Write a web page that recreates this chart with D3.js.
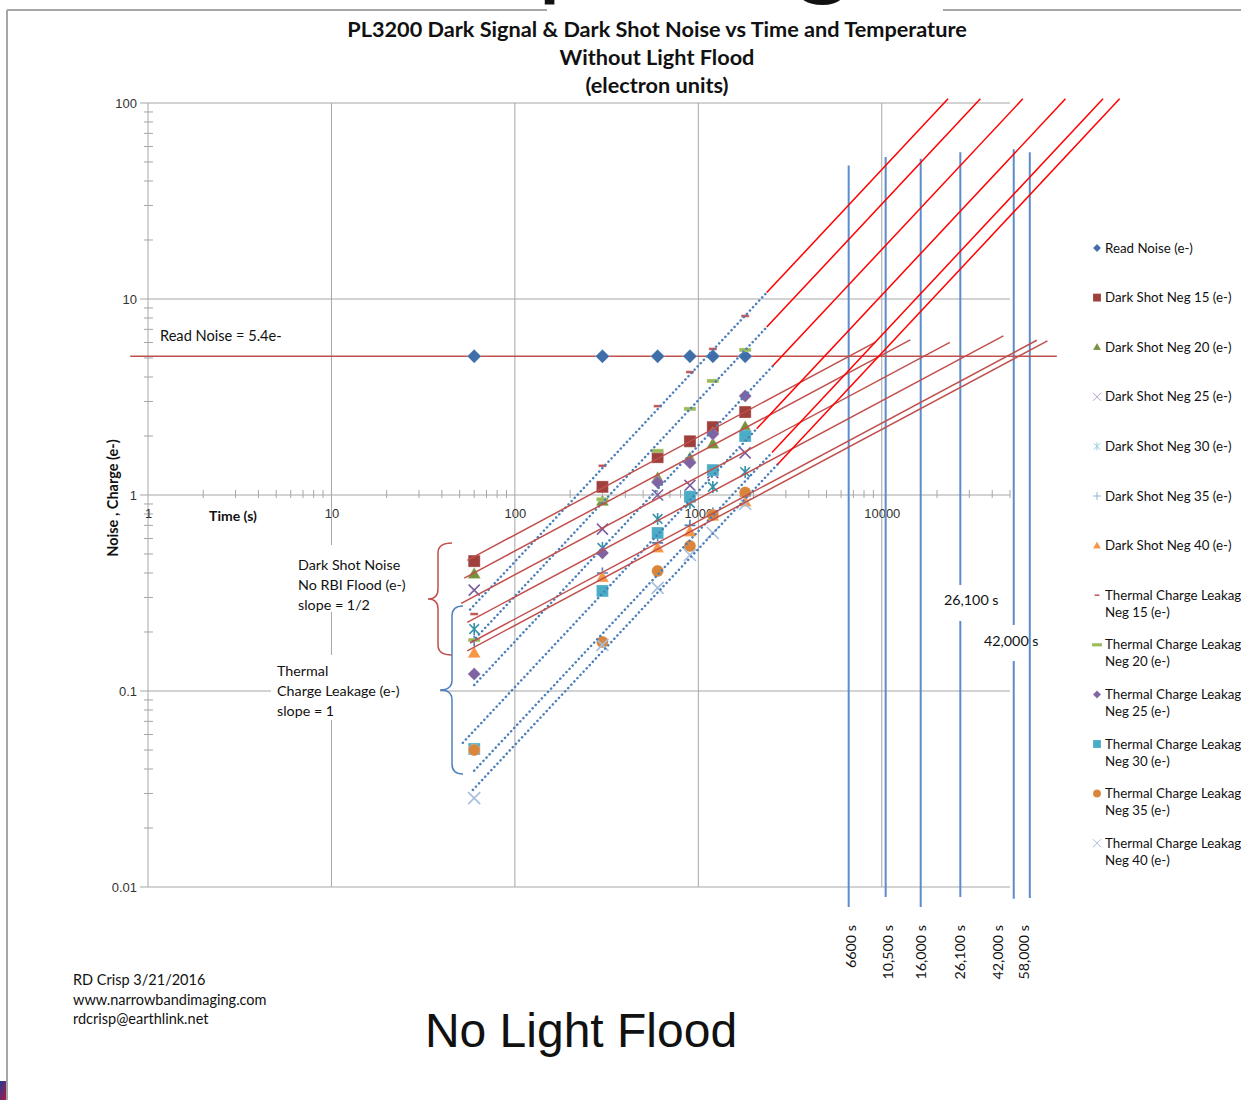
<!DOCTYPE html>
<html>
<head>
<meta charset="utf-8">
<title>PL3200 Dark Signal and Dark Shot Noise</title>
<script src="https://cdn.jsdelivr.net/npm/d3@7/dist/d3.min.js"></script>
<style>
  body { margin: 0; background: #fff; }
  .vis { width: 1241px; height: 1100px; }
  text { font-family: Lato, 'Open Sans', sans-serif; fill: #111; }
  .tick text { font-family: 'Liberation Sans', Arial, sans-serif; font-size: 13px; fill: #333; }
</style>
</head>
<body>
<div class="vis"></div>
<script>
(function() {
  'use strict';

  // exposure times (s)
  var times = [60, 300, 600, 900, 1200, 1800];

  // electrons
  var readNoise  = [5.1, 5.1, 5.1, 5.1, 5.1, 5.1];
  var darkShot15 = [0.46, 1.10, 1.56, 1.88, 2.22, 2.65];
  var darkShot20 = [0.395, 0.93, 1.22, 1.54, 1.82, 2.22];
  var darkShot25 = [0.327, 0.67, 1.0, 1.12, 1.3, 1.64];
  var darkShot30 = [0.207, 0.537, 0.755, 0.91, 1.1, 1.31];
  var darkShot35 = [0.18, 0.40, 0.57, 0.70, 0.81, 0.99];
  var darkShot40 = [0.156, 0.38, 0.537, 0.647, 0.78, 0.92];
  var thermal15  = [0.247, 1.41, 2.84, 4.24, 5.56, 8.19];
  var thermal20  = [0.182, 0.95, 1.68, 2.75, 3.82, 5.5];
  var thermal25  = [0.122, 0.506, 1.16, 1.46, 2.05, 3.2];
  var thermal30  = [0.0506, 0.324, 0.64, 0.98, 1.34, 2.0];
  var thermal35  = [0.05, 0.178, 0.41, 0.55, 0.79, 1.03];
  var thermal40  = [0.0284, 0.172, 0.336, 0.494, 0.64, 0.9];

  var seriesNames = [
    'Read Noise (e-)',
    'Dark Shot Neg 15 (e-)', 'Dark Shot Neg 20 (e-)', 'Dark Shot Neg 25 (e-)',
    'Dark Shot Neg 30 (e-)', 'Dark Shot Neg 35 (e-)', 'Dark Shot Neg 40 (e-)',
    'Thermal Charge Leakage|Neg 15 (e-)', 'Thermal Charge Leakage|Neg 20 (e-)',
    'Thermal Charge Leakage|Neg 25 (e-)', 'Thermal Charge Leakage|Neg 30 (e-)',
    'Thermal Charge Leakage|Neg 35 (e-)', 'Thermal Charge Leakage|Neg 40 (e-)'
  ];

  // trend line extents (s)
  var shotStart = [55, 53, 51, 55, 57, 55];
  var shotEnd   = [9300, 14300, 23500, 46000, 70000, 80000];
  var leakStart = [57, 59, 60, 52, 60, 59];
  var leakBreak = [2360, 2360, 2550, 2080, 2520, 2700];
  var leakTop = 105;

  var readNoiseLevel = 5.1;
  var readNoiseSpan = [0.8, 90000];

  // times where dark shot noise meets read noise
  var crossTimes  = [6600, 10500, 16300, 26800, 52400, 64100];
  var crossTop    = [48, 53, 52, 56, 58, 56];
  var crossBottom = [0.0079, 0.0089, 0.0079, 0.0089, 0.0087, 0.0088];
  var crossLabels = ['6600 s', '10,500 s', '16,000 s', '26,100 s', '42,000 s', '58,000 s'];
  var crossLabelTimes = [6600, 10500, 16000, 26100, 42000, 58000];

  var xTicks = [1, 10, 100, 1000, 10000];
  var yTicks = [0.01, 0.1, 1, 10, 100];

  var allValues = [readNoise, darkShot15, darkShot20, darkShot25, darkShot30, darkShot35, darkShot40,
    thermal15, thermal20, thermal25, thermal30, thermal35, thermal40];

  // marker styles, same order as seriesNames
  var styles = [
    {shape: 'diamond', color: '#3F6EA9', size: 14},
    {shape: 'square', color: '#A0403C', size: 12},
    {shape: 'triangle', color: '#77933C', size: 13},
    {shape: 'x', color: '#7D60A0', legend: '#B3A2C7', size: 11},
    {shape: 'asterisk', color: '#3591A8', legend: '#93CDDD', size: 12},
    {shape: 'plus', color: '#4A7EBB', legend: '#95B3D7', size: 11},
    {shape: 'triangle', color: '#F79646', size: 13},
    {shape: 'dash', color: '#C0504D', size: 8},
    {shape: 'dash', color: '#9BBB59', size: 12},
    {shape: 'diamond', color: '#8064A2', size: 13},
    {shape: 'square', color: '#4BACC6', size: 12},
    {shape: 'circle', color: '#D9853C', size: 12},
    {shape: 'x', color: '#A7BDDF', size: 12}
  ];

  var series = seriesNames.map(function(name, i) {
    return {name: name, values: allValues[i], style: styles[i]};
  });

  var svg = d3.select('.vis').append('svg')
    .attr('width', 1241)
    .attr('height', 1100);

  var x = d3.scaleLog().domain([1, 50000]).range([148, 1010]);
  var y = d3.scaleLog().domain([0.01, 100]).range([887, 103]);

  // slide frame bits
  svg.append('line').attr('x1', 7).attr('x2', 7).attr('y1', 10).attr('y2', 1100)
    .attr('stroke', '#A6A6A6').attr('stroke-width', 2);
  svg.append('line').attr('x1', 7).attr('x2', 547).attr('y1', 10).attr('y2', 10)
    .attr('stroke', '#A6A6A6').attr('stroke-width', 2);
  svg.append('line').attr('x1', 943).attr('x2', 1241).attr('y1', 10).attr('y2', 10)
    .attr('stroke', '#A6A6A6').attr('stroke-width', 2);
  svg.append('text').attr('x', 540).attr('y', -9).attr('font-size', 78).attr('font-weight', 'bold').text('p');
  svg.append('text').attr('x', 796).attr('y', -14).attr('font-size', 104).attr('font-weight', 'bold').text('g');
  var grad = svg.append('defs').append('linearGradient').attr('id', 'corner')
    .attr('x1', 0).attr('y1', 0).attr('x2', 1).attr('y2', 1);
  grad.append('stop').attr('offset', '0%').attr('stop-color', '#1D3E9A');
  grad.append('stop').attr('offset', '100%').attr('stop-color', '#B0153C');
  svg.append('rect').attr('x', 0).attr('y', 1081).attr('width', 6).attr('height', 19).attr('fill', 'url(#corner)');

  // title
  var title = ['PL3200 Dark Signal & Dark Shot Noise vs Time and Temperature', 'Without Light Flood', '(electron units)'];
  svg.append('g').selectAll('text').data(title).enter().append('text')
    .attr('x', 657)
    .attr('y', function(d, i) { return 37 + i * 28; })
    .attr('text-anchor', 'middle')
    .attr('font-size', 21.7)
    .attr('font-weight', 'bold')
    .text(function(d) { return d; });

  // grid
  var grid = svg.append('g').attr('stroke', '#A6A6A6').attr('stroke-width', 1);
  grid.selectAll('.hg').data(yTicks).enter().append('line')
    .attr('x1', 140).attr('x2', x.range()[1])
    .attr('y1', y).attr('y2', y);
  grid.selectAll('.vg').data(xTicks).enter().append('line')
    .attr('x1', x).attr('x2', x)
    .attr('y1', y(100)).attr('y2', y(0.01));

  var minorY = [], minorX = [];
  yTicks.slice(0, 4).forEach(function(d) {
    for (var k = 2; k < 10; k++) { minorY.push(d * k); }
  });
  xTicks.forEach(function(d) {
    for (var k = 2; k < 10; k++) { if (d * k <= 50000) { minorX.push(d * k); } }
  });
  grid.selectAll('.my').data(minorY).enter().append('line')
    .attr('x1', x(1) - 4).attr('x2', x(1) + 5)
    .attr('y1', y).attr('y2', y);
  grid.selectAll('.mx').data(minorX).enter().append('line')
    .attr('x1', x).attr('x2', x)
    .attr('y1', y(1) - 5).attr('y2', y(1) + 3);

  svg.append('g')
    .attr('transform', 'translate(' + x(1) + ',0)')
    .call(d3.axisLeft(y).tickValues(yTicks).tickFormat(d3.format('~g')).tickSize(0).tickPadding(11))
    .call(function(g) { g.select('.domain').remove(); });

  svg.append('g')
    .attr('transform', 'translate(0,' + y(1) + ')')
    .call(d3.axisBottom(x).tickValues(xTicks).tickFormat(d3.format('d')).tickSize(0).tickPadding(14))
    .call(function(g) { g.select('.domain').remove(); });

  svg.append('text').attr('x', 233).attr('y', 521).attr('text-anchor', 'middle')
    .attr('font-size', 14).attr('font-weight', 'bold').text('Time (s)');
  svg.append('text').attr('transform', 'translate(118,498) rotate(-90)').attr('text-anchor', 'middle')
    .attr('font-size', 14.5).attr('font-weight', 'bold').text('Noise , Charge (e-)');

  // annotation boxes
  svg.append('rect').attr('x', 292).attr('y', 545).attr('width', 128).attr('height', 67).attr('fill', '#fff');
  svg.append('rect').attr('x', 271).attr('y', 655).attr('width', 169).attr('height', 65).attr('fill', '#fff');

  function multiline(lines, x0, y0, step, size) {
    svg.append('g').selectAll('text').data(lines).enter().append('text')
      .attr('x', x0)
      .attr('y', function(d, i) { return y0 + i * step; })
      .attr('font-size', size || 14.3)
      .text(function(d) { return d; });
  }
  multiline(['Read Noise = 5.4e-'], 160, 341, 20, 14.6);
  multiline(['Dark Shot Noise', 'No RBI Flood (e-)', 'slope = 1/2'], 298, 570, 20);
  multiline(['Thermal', 'Charge Leakage (e-)', 'slope = 1'], 277, 676, 20);

  // braces
  svg.append('path')
    .attr('d', 'M452,543 Q438,543 438,553 L438,589 Q438,599 428,599 Q438,599 438,609 L438,645 Q438,655 452,655')
    .attr('fill', 'none').attr('stroke', '#C0504D').attr('stroke-width', 1.5);
  svg.append('path')
    .attr('d', 'M463,606 Q452,606 452,616 L452,680 Q452,690 440,690 Q452,690 452,700 L452,764 Q452,774 463,774')
    .attr('fill', 'none').attr('stroke', '#4F81BD').attr('stroke-width', 1.5);

  // crossing lines
  svg.append('g').selectAll('line').data(crossTimes).enter().append('line')
    .attr('x1', x).attr('x2', x)
    .attr('y1', function(d, i) { return y(crossTop[i]); })
    .attr('y2', function(d, i) { return y(crossBottom[i]); })
    .attr('stroke', '#5B8CCB').attr('stroke-width', 2);

  svg.append('rect').attr('x', x(crossTimes[3]) - 5).attr('y', 585).attr('width', 10).attr('height', 36).attr('fill', '#fff');
  svg.append('rect').attr('x', x(crossTimes[4]) - 5).attr('y', 625).attr('width', 10).attr('height', 36).attr('fill', '#fff');
  svg.append('text').attr('x', 944).attr('y', 605).attr('font-size', 14.3).text(crossLabels[3]);
  svg.append('text').attr('x', 984).attr('y', 646).attr('font-size', 14.3).text(crossLabels[4]);

  svg.append('g').selectAll('text').data(crossLabels).enter().append('text')
    .attr('transform', function(d, i) {
      return 'translate(' + (x(crossLabelTimes[i]) + 2) + ',925) rotate(-90)';
    })
    .attr('text-anchor', 'end')
    .attr('dy', '0.35em')
    .attr('font-size', 14.3)
    .text(function(d) { return d; });

  // read noise level
  svg.append('line')
    .attr('x1', x(readNoiseSpan[0])).attr('x2', x(readNoiseSpan[1]))
    .attr('y1', y(readNoiseLevel)).attr('y2', y(readNoiseLevel))
    .attr('stroke', '#C0504D').attr('stroke-width', 1.5);

  // markers
  function shapePath(type, s) {
    var r = s / 2;
    if (type === 'diamond') { return 'M0,' + (-r) + 'L' + r + ',0L0,' + r + 'L' + (-r) + ',0Z'; }
    if (type === 'square') { return 'M' + (-r) + ',' + (-r) + 'h' + s + 'v' + s + 'h' + (-s) + 'Z'; }
    if (type === 'triangle') {
      var h = s * 0.87;
      return 'M0,' + (-h * 0.6) + 'L' + r + ',' + (h * 0.4) + 'L' + (-r) + ',' + (h * 0.4) + 'Z';
    }
    if (type === 'x') { return 'M' + (-r) + ',' + (-r) + 'L' + r + ',' + r + 'M' + (-r) + ',' + r + 'L' + r + ',' + (-r); }
    if (type === 'asterisk') {
      var q = r * 0.8;
      return 'M' + (-q) + ',' + (-q) + 'L' + q + ',' + q + 'M' + (-q) + ',' + q + 'L' + q + ',' + (-q) + 'M0,' + (-r) + 'V' + r;
    }
    if (type === 'plus') { return 'M' + (-r) + ',0H' + r + 'M0,' + (-r) + 'V' + r; }
    if (type === 'dash') { var t = s * 0.33; return 'M' + (-r) + ',' + (-t / 2) + 'h' + s + 'v' + t + 'h' + (-s) + 'Z'; }
    return d3.symbol(d3.symbolCircle, Math.PI * r * r)();
  }
  var stroked = {x: true, asterisk: true, plus: true};

  function addMarker(g, st, s, color) {
    var p = g.append('path').attr('d', shapePath(st.shape, s));
    if (stroked[st.shape]) {
      p.attr('fill', 'none').attr('stroke', color).attr('stroke-width', 1.6);
    } else {
      p.attr('fill', color).attr('stroke', '#fff').attr('stroke-opacity', 0.35).attr('stroke-width', 0.8);
    }
    return p;
  }

  var markerLayer = svg.append('g');
  series.forEach(function(s) {
    s.values.forEach(function(v, i) {
      var g = markerLayer.append('g').attr('transform', 'translate(' + x(times[i]) + ',' + y(v) + ')');
      addMarker(g, s.style, s.style.size, s.style.color);
    });
  });

  // trend lines with fixed slopes
  function fitPower(values, slope) {
    var m = d3.mean(values, function(v, i) { return Math.log(v) - slope * Math.log(times[i]); });
    return Math.exp(m);
  }
  var line = d3.line()
    .x(function(d) { return x(d.t); })
    .y(function(d) { return y(d.v); });

  var shotSeries = series.slice(1, 7);
  var leakSeries = series.slice(7, 13);

  var leakFits = leakSeries.map(function(s) { return fitPower(s.values, 1); });
  var leakDotted = leakFits.map(function(c, i) {
    return [leakStart[i], leakBreak[i]].map(function(t) { return {t: t, v: c * t}; });
  });
  var leakRed = leakFits.map(function(c, i) {
    return [leakBreak[i], leakTop / c].map(function(t) { return {t: t, v: c * t}; });
  });
  var shotLines = shotSeries.map(function(s, i) {
    var c = fitPower(s.values, 0.5);
    return [shotStart[i], shotEnd[i]].map(function(t) { return {t: t, v: c * Math.sqrt(t)}; });
  });

  svg.append('g').selectAll('path').data(leakDotted).enter().append('path')
    .attr('d', line)
    .attr('fill', 'none')
    .attr('stroke', '#4A7EBB')
    .attr('stroke-width', 2.5)
    .attr('stroke-linecap', 'round')
    .attr('stroke-dasharray', '0.1 4.4');

  svg.append('g').selectAll('path').data(shotLines).enter().append('path')
    .attr('d', line)
    .attr('fill', 'none')
    .attr('stroke', '#C0504D')
    .attr('stroke-width', 1.5);

  svg.append('g').selectAll('path').data(leakRed).enter().append('path')
    .attr('d', line)
    .attr('fill', 'none')
    .attr('stroke', '#FF0000')
    .attr('stroke-width', 1.5);

  // legend
  var legend = svg.append('g');
  series.forEach(function(s, i) {
    var ly = 248 + i * 49.6;
    var g = legend.append('g').attr('transform', 'translate(1097,' + ly + ')');
    var st = s.style;
    var size = st.shape === 'dash' ? (st.size === 8 ? 5 : 10) : 8;
    addMarker(g, st, size, st.legend || st.color).attr('stroke-width', stroked[st.shape] ? 1 : 0.5);
    var parts = s.name.split('|');
    parts.forEach(function(p, k) {
      legend.append('text')
        .attr('x', 1105)
        .attr('y', ly + 4.5 + k * 17)
        .attr('font-size', 13.3)
        .text(p);
    });
  });

  // footer
  multiline(['RD Crisp 3/21/2016', 'www.narrowbandimaging.com', 'rdcrisp@earthlink.net'], 73, 985, 19.5, 14.5);
  svg.append('text').attr('x', 581).attr('y', 1047).attr('text-anchor', 'middle')
    .attr('font-size', 48)
    .style('font-family', "'Liberation Sans', Arial, sans-serif")
    .text('No Light Flood');
}());
</script>
</body>
</html>
